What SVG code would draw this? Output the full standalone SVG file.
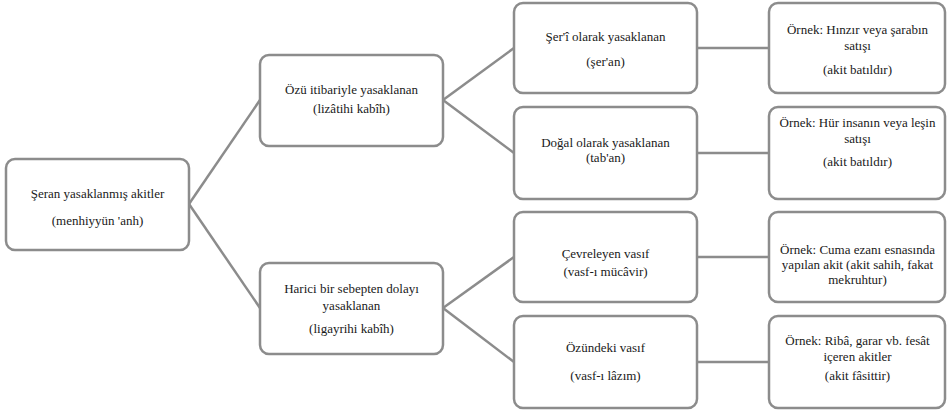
<svg xmlns="http://www.w3.org/2000/svg" width="947" height="411" viewBox="0 0 947 411">
<style>
.box{fill:#ffffff;stroke:#8c8c8c;stroke-width:2.5}
.conn{stroke:#8c8c8c;stroke-width:2.5;fill:none}
text{font-family:"Liberation Serif",serif;font-size:13px;fill:#1a1a1a;text-anchor:middle}
</style>
<rect width="947" height="411" fill="#ffffff"/>
<g id="connectors">
<line class="conn" x1="189" y1="204" x2="260" y2="100"/>
<line class="conn" x1="189" y1="204" x2="260" y2="308"/>
<line class="conn" x1="443" y1="100" x2="514" y2="48"/>
<line class="conn" x1="443" y1="100" x2="514" y2="153"/>
<line class="conn" x1="443" y1="308" x2="514" y2="257"/>
<line class="conn" x1="443" y1="308" x2="514" y2="362"/>
<line class="conn" x1="697" y1="48" x2="769" y2="48"/>
<line class="conn" x1="697" y1="153" x2="769" y2="153"/>
<line class="conn" x1="697" y1="257" x2="769" y2="257"/>
<line class="conn" x1="697" y1="362" x2="769" y2="362"/>
</g>
<g id="root">
<rect class="box" x="6" y="159" width="183" height="91" rx="9"/>
<text x="97.5" y="198">Şeran yasaklanmış akitler</text>
<text x="97.5" y="225">(menhiyyün 'anh)</text>
</g>
<g id="lizatihi">
<rect class="box" x="260" y="55" width="183" height="91" rx="9"/>
<text x="351.5" y="94">Özü itibariyle yasaklanan</text>
<text x="351.5" y="113">(lizâtihi kabîh)</text>
</g>
<g id="ligayrihi">
<rect class="box" x="260" y="263" width="183" height="91" rx="9"/>
<text x="351.5" y="293">Harici bir sebepten dolayı</text>
<text x="351.5" y="310">yasaklanan</text>
<text x="351.5" y="333">(ligayrihi kabîh)</text>
</g>
<g id="seran">
<rect class="box" x="514" y="3" width="183" height="90" rx="9"/>
<text x="605.5" y="41">Şer'î olarak yasaklanan</text>
<text x="605.5" y="66">(şer'an)</text>
</g>
<g id="taban">
<rect class="box" x="514" y="107" width="183" height="92" rx="9"/>
<text x="605.5" y="147">Doğal olarak yasaklanan</text>
<text x="605.5" y="162">(tab'an)</text>
</g>
<g id="mucavir">
<rect class="box" x="514" y="212" width="183" height="90" rx="9"/>
<text x="605.5" y="258">Çevreleyen vasıf</text>
<text x="605.5" y="276">(vasf-ı mücâvir)</text>
</g>
<g id="lazim">
<rect class="box" x="514" y="316" width="183" height="92" rx="9"/>
<text x="605.5" y="352">Özündeki vasıf</text>
<text x="605.5" y="380">(vasf-ı lâzım)</text>
</g>
<g id="ornek1">
<rect class="box" x="769" y="3" width="176" height="90" rx="9"/>
<text x="857.5" y="34">Örnek: Hınzır veya şarabın</text>
<text x="857.5" y="50">satışı</text>
<text x="857.5" y="74">(akit batıldır)</text>
</g>
<g id="ornek2">
<rect class="box" x="769" y="107" width="176" height="92" rx="9"/>
<text x="857.5" y="127">Örnek: Hür insanın veya leşin</text>
<text x="857.5" y="143">satışı</text>
<text x="857.5" y="166">(akit batıldır)</text>
</g>
<g id="ornek3">
<rect class="box" x="769" y="212" width="176" height="90" rx="9"/>
<text x="857.5" y="254">Örnek: Cuma ezanı esnasında</text>
<text x="857.5" y="269">yapılan akit (akit sahih, fakat</text>
<text x="857.5" y="284">mekruhtur)</text>
</g>
<g id="ornek4">
<rect class="box" x="769" y="316" width="176" height="92" rx="9"/>
<text x="857.5" y="345">Örnek: Ribâ, garar vb.  fesât</text>
<text x="857.5" y="361">içeren akitler</text>
<text x="857.5" y="380">(akit fâsittir)</text>
</g>
</svg>
